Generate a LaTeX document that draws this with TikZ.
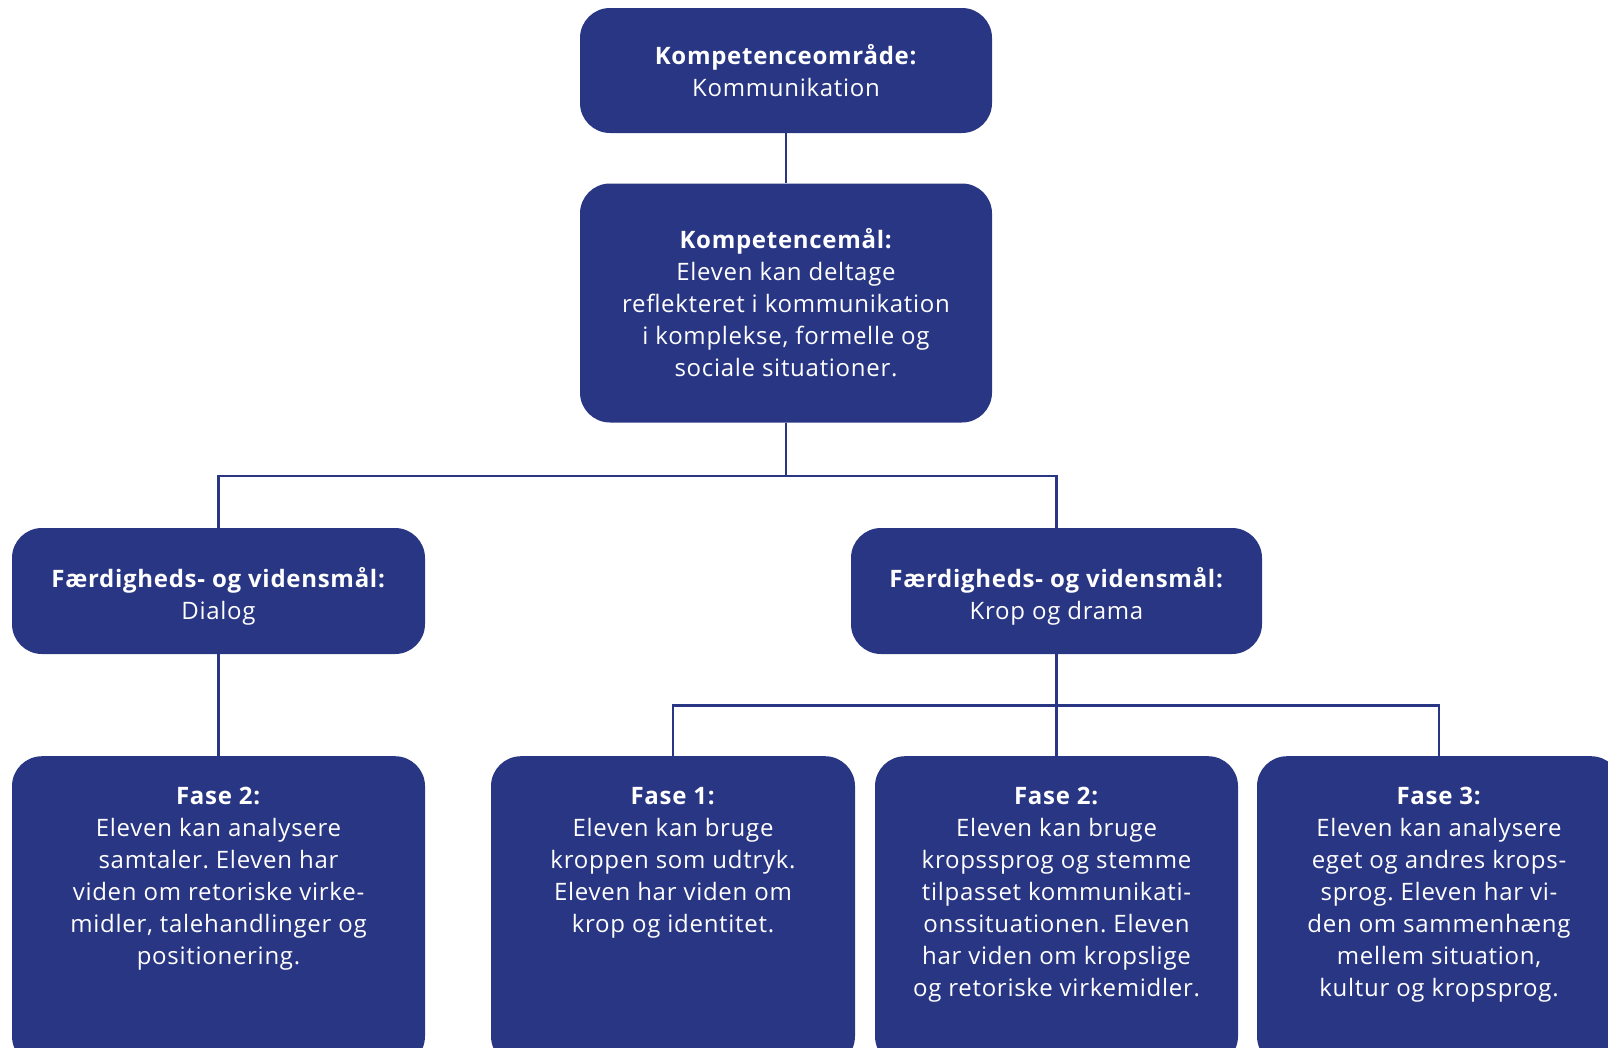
\documentclass[tikz,border=0pt]{standalone}
\usepackage{fontspec}
\setmainfont{Open Sans}[LetterSpace=3]
\frenchspacing
\definecolor{navy}{RGB}{41,54,132}
\tikzset{
  box/.style={fill=navy, rounded corners=30pt, inner sep=0pt},
  txt/.style={text=white, align=center, font=\fontsize{24}{32}\selectfont, inner sep=0pt},
  link/.style={draw=navy, line width=2.5pt}
}
\begin{document}
\begin{tikzpicture}[x=1pt,y=-1pt]
\useasboundingbox (0,0) rectangle (1608,1047);
\clip (0,0) rectangle (1608,1047);
% boxes
\node[box, txt, minimum width=412pt, minimum height=125pt] (top) at (786,70.5)
  {\textbf{Kompetenceområde:}\\Kommunikation};
\node[box, txt, minimum width=412pt, minimum height=239pt] (goal) at (786,303)
  {\textbf{Kompetencemål:}\\Eleven kan deltage\\reflekteret i kommunikation\\i komplekse, formelle og\\sociale situationer.};
\node[box, minimum width=413pt, minimum height=126pt] (midL) at (218.5,591) {};
\node[box, minimum width=411pt, minimum height=126pt] (midR) at (1056.5,591) {};
\node[txt] (tmL) at (218.5,596) {\textbf{Færdigheds- og vidensmål:}\\Dialog};
\node[txt] (tmR) at (1056.5,596) {\textbf{Færdigheds- og vidensmål:}\\Krop og drama};
\node[box, minimum width=413pt, minimum height=310pt, anchor=north] (bL) at (218.5,756) {};
\node[box, minimum width=364pt, minimum height=310pt, anchor=north] (b1) at (673,756) {};
\node[box, minimum width=363pt, minimum height=310pt, anchor=north] (b2) at (1056.5,756) {};
\node[box, minimum width=364pt, minimum height=310pt, anchor=north] (b3) at (1439,756) {};
\node[txt, anchor=north] (tL) at (218.5,787)
  {\textbf{Fase 2:}\\Eleven kan analysere\\samtaler. Eleven har\\viden om retoriske virke-\\midler, talehandlinger og\\positionering.};
\node[txt, anchor=north] (t1) at (673,787)
  {\textbf{Fase 1:}\\Eleven kan bruge\\kroppen som udtryk.\\Eleven har viden om\\krop og identitet.};
\node[txt, anchor=north] (t2) at (1056.5,787)
  {\textbf{Fase 2:}\\Eleven kan bruge\\kropssprog og stemme\\tilpasset kommunikati-\\onssituationen. Eleven\\har viden om kropslige\\og retoriske virkemidler.};
\node[txt, anchor=north] (t3) at (1439,787)
  {\textbf{Fase 3:}\\Eleven kan analysere\\eget og andres krops-\\sprog. Eleven har vi-\\den om sammenhæng\\mellem situation,\\kultur og kropsprog.};
% connectors
\coordinate (j1) at (786,476);
\coordinate (j2) at (1056.5,705.5);
\draw[link] (top.south) -- (goal.north);
\draw[link] (goal.south) -- (j1);
\draw[link] (midL.north) |- (j1) -| (midR.north);
\draw[link] (midL.south) -- (bL.north);
\draw[link] (midR.south) -- (b2.north);
\draw[link] (b1.north) |- (j2) -| (b3.north);
\end{tikzpicture}
\end{document}
